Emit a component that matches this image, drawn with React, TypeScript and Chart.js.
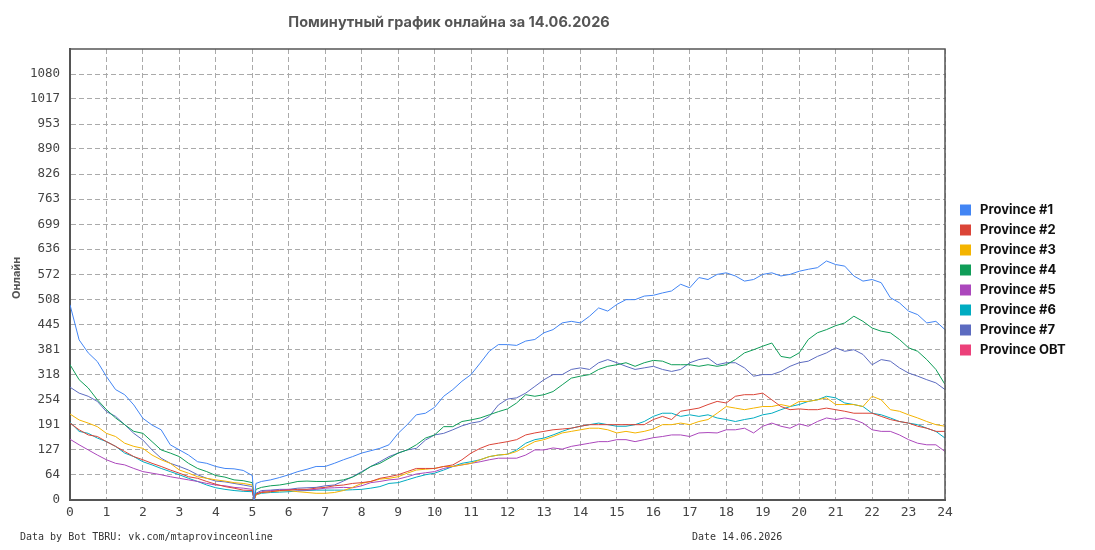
import React, { useEffect, useRef } from "react";
import { Chart, registerables } from "chart.js";

Chart.register(...registerables);

const TITLE = "Поминутный график онлайна за 14.06.2026";
const Y_TITLE = "Онлайн";
const FOOTER_LEFT = "Data by Bot TBRU: vk.com/mtaprovinceonline";
const FOOTER_DATE = "Date 14.06.2026";

const Y_TICKS = [0, 64, 127, 191, 254, 318, 381, 445, 508, 572, 636, 699, 763, 826, 890, 953, 1017, 1080];
const Y_MAX = 1143.5;
const X_MIN = 0;
const X_MAX = 24;

const SERIES_NAMES = [
  "Province #1",
  "Province #2",
  "Province #3",
  "Province #4",
  "Province #5",
  "Province #6",
  "Province #7",
  "Province OBT",
];

const COLORS = ["#4285F4", "#DB4437", "#F4B400", "#0F9D58", "#AB47BC", "#00ACC1", "#5C6BC0", "#EC407A"];

// hours of day
const TIMES = [
  0, 0.25, 0.5, 0.75, 1, 1.25, 1.5, 1.75, 2, 2.25, 2.5, 2.75, 3, 3.25, 3.5, 3.75, 4, 4.25, 4.5, 4.75,
  5, 5.05, 5.1, 5.25, 5.5, 5.75,
  6, 6.25, 6.5, 6.75, 7, 7.25, 7.5, 7.75, 8, 8.25, 8.5, 8.75, 9, 9.25, 9.5, 9.75,
  10, 10.25, 10.5, 10.75, 11, 11.25, 11.5, 11.75, 12, 12.25, 12.5, 12.75, 13, 13.25, 13.5, 13.75,
  14, 14.25, 14.5, 14.75, 15, 15.25, 15.5, 15.75, 16, 16.25, 16.5, 16.75, 17, 17.25, 17.5, 17.75,
  18, 18.25, 18.5, 18.75, 19, 19.25, 19.5, 19.75, 20, 20.25, 20.5, 20.75, 21, 21.25, 21.5, 21.75,
  22, 22.25, 22.5, 22.75, 23, 23.25, 23.5, 23.75, 24,
];

const P1 = [
  495, 406, 373, 351, 313, 280, 267, 241, 207, 190, 178, 140, 127, 114, 97, 93, 85, 80, 79, 75,
  62, 0, 42, 47, 51, 57,
  64, 72, 78, 85, 85, 93, 102, 110, 119, 125, 131, 140, 169, 191, 216, 220,
  235, 263, 280, 301, 318, 347, 377, 394, 394, 392, 403, 407, 424, 432, 449, 453,
  449, 466, 487, 479, 496, 508, 508, 517, 519, 525, 530, 547, 538, 564, 559, 572,
  576, 568, 555, 559, 572, 576, 568, 572, 580, 585, 589, 606, 597, 593, 568, 555,
  559, 551, 513, 500, 479, 470, 449, 453, 432,
];

const P2 = [
  195, 178, 165, 161, 148, 136, 123, 110, 102, 93, 85, 76, 68, 59, 55, 47, 40, 34, 30, 25,
  24, 0, 15, 19, 21, 24,
  25, 27, 27, 30, 32, 36, 38, 42, 44, 47, 55, 59, 64, 72, 80, 80,
  80, 85, 89, 102, 119, 131, 140, 144, 148, 153, 165, 170, 174, 178, 180, 182,
  187, 191, 191, 191, 191, 191, 191, 191, 204, 212, 204, 225, 229, 233, 242, 250,
  246, 263, 267, 267, 271, 254, 237, 229, 231, 229, 229, 233, 229, 225, 220, 220,
  220, 212, 204, 199, 195, 187, 182, 174, 174,
];

const P3 = [
  218, 203, 195, 186, 169, 161, 144, 136, 131, 114, 102, 93, 76, 68, 59, 55, 51, 48, 44, 42,
  38, 0, 13, 19, 21, 23,
  24, 21, 19, 17, 17, 19, 24, 32, 42, 47, 53, 55, 59, 68, 76, 78,
  80, 85, 85, 89, 93, 102, 110, 114, 116, 123, 136, 148, 153, 161, 170, 174,
  178, 182, 182, 178, 170, 174, 170, 174, 180, 191, 191, 195, 191, 199, 204, 220,
  237, 233, 229, 233, 237, 237, 242, 237, 250, 250, 254, 259, 242, 242, 242, 237,
  263, 254, 229, 225, 216, 208, 199, 191, 187,
];

const P4 = [
  343, 305, 284, 254, 229, 208, 191, 174, 169, 148, 127, 119, 110, 93, 80, 72, 62, 58, 51, 49,
  44, 0, 27, 32, 36, 38,
  42, 47, 48, 47, 47, 48, 51, 58, 70, 85, 93, 106, 119, 127, 140, 157,
  165, 186, 186, 199, 203, 208, 216, 224, 231, 246, 267, 263, 267, 275, 292, 309,
  314, 318, 331, 339, 343, 348, 339, 348, 354, 352, 343, 343, 343, 339, 343, 339,
  343, 356, 373, 381, 390, 398, 364, 360, 373, 407, 424, 432, 442, 449, 466, 453,
  436, 428, 424, 407, 386, 377, 356, 331, 293,
];

const P5 = [
  154, 140, 127, 114, 102, 93, 89, 80, 72, 68, 64, 59, 55, 51, 47, 42, 38, 36, 32, 30,
  27, 0, 15, 21, 24, 25,
  27, 25, 25, 27, 30, 31, 32, 31, 36, 44, 47, 51, 53, 59, 66, 69,
  72, 80, 85, 89, 93, 97, 102, 106, 106, 106, 114, 127, 127, 132, 129, 136,
  140, 144, 148, 148, 153, 153, 148, 153, 158, 161, 165, 165, 161, 170, 171, 170,
  178, 178, 182, 170, 187, 195, 187, 182, 193, 187, 199, 208, 204, 208, 204, 195,
  178, 174, 174, 165, 153, 144, 140, 140, 123,
];

const P6 = [
  197, 174, 169, 157, 148, 136, 119, 110, 97, 89, 80, 72, 64, 55, 47, 38, 31, 27, 24, 22,
  21, 0, 13, 17, 19, 20,
  21, 23, 24, 25, 25, 25, 25, 26, 27, 30, 34, 42, 44, 51, 58, 64,
  68, 76, 85, 93, 97, 102, 110, 114, 116, 127, 144, 153, 157, 165, 174, 182,
  187, 191, 195, 191, 187, 187, 191, 199, 212, 220, 220, 212, 216, 212, 216, 208,
  204, 199, 204, 208, 216, 220, 229, 237, 242, 250, 254, 263, 259, 246, 242, 237,
  220, 216, 208, 199, 195, 191, 182, 174, 157,
];

const P7 = [
  286, 271, 263, 250, 224, 212, 191, 169, 152, 127, 106, 93, 85, 76, 64, 55, 48, 46, 42, 38,
  34, 0, 17, 24, 25, 27,
  27, 30, 31, 32, 36, 38, 48, 59, 72, 85, 97, 110, 119, 127, 131, 152,
  165, 169, 178, 188, 195, 199, 212, 241, 256, 259, 271, 288, 305, 318, 318, 331,
  335, 331, 348, 356, 348, 339, 331, 335, 339, 331, 326, 331, 348, 356, 360, 343,
  348, 348, 335, 314, 318, 318, 326, 339, 348, 352, 364, 373, 386, 377, 381, 369,
  343, 356, 352, 335, 322, 314, 305, 297, 280,
];

const POBT: number[] = [];

const SERIES = [P1, P2, P3, P4, P5, P6, P7, POBT];

const MONO = '"DejaVu Sans Mono", "Liberation Mono", monospace';
const SANS = 'Inter, "Noto Sans", sans-serif';

const decorPlugin = {
  id: "decor",
  afterDraw(chart: any) {
    const { ctx, chartArea: a } = chart;
    ctx.save();
    // top and right frame
    ctx.strokeStyle = "#555";
    ctx.lineWidth = 1.5;
    ctx.beginPath();
    ctx.moveTo(a.left, a.top);
    ctx.lineTo(a.right, a.top);
    ctx.lineTo(a.right, a.bottom);
    ctx.stroke();

    // title
    ctx.fillStyle = "#555";
    ctx.font = `bold 14.5px ${SANS}`;
    ctx.textAlign = "center";
    ctx.textBaseline = "middle";
    ctx.fillText(TITLE, 449, 23);

    // y axis title
    ctx.save();
    ctx.translate(17, 278);
    ctx.rotate(-Math.PI / 2);
    ctx.font = `bold 11px ${SANS}`;
    ctx.fillStyle = "#555";
    ctx.fillText(Y_TITLE, 0, 0);
    ctx.restore();

    // footer
    ctx.font = `10px ${MONO}`;
    ctx.fillStyle = "#333";
    ctx.textAlign = "left";
    ctx.fillText(FOOTER_LEFT, 20, 537);
    ctx.fillText(FOOTER_DATE, 692, 537);

    // legend
    chart.data.datasets.forEach((ds: any, i: number) => {
      const y = 210 + i * 20;
      ctx.fillStyle = ds.borderColor;
      ctx.fillRect(960, y - 5.5, 11, 11);
      ctx.fillStyle = "#111";
      ctx.font = `bold 13px ${SANS}`;
      ctx.textAlign = "left";
      ctx.fillText(ds.label, 980, y);
    });
    ctx.restore();
  },
};

export default function App() {
  const canvasRef = useRef<HTMLCanvasElement | null>(null);

  useEffect(() => {
    document.body.style.margin = "0";
    const canvas = canvasRef.current;
    if (!canvas) return;
    const chart = new Chart(canvas, {
      type: "line",
      data: {
        datasets: SERIES.map((vals, i) => ({
          label: SERIES_NAMES[i],
          data: vals.map((v, j) => ({ x: TIMES[j], y: v })),
          borderColor: COLORS[i],
          backgroundColor: COLORS[i],
          borderWidth: 1,
          pointRadius: 0,
          tension: 0,
          fill: false,
        })),
      },
      options: {
        animation: false,
        responsive: true,
        maintainAspectRatio: false,
        layout: { padding: { left: 0, top: 49, right: 150, bottom: 0 } },
        plugins: {
          legend: { display: false },
          title: { display: false },
          tooltip: { enabled: false },
        },
        scales: {
          x: {
            type: "linear",
            min: X_MIN,
            max: X_MAX,
            afterFit: (s: any) => {
              s.height = 50;
            },
            ticks: {
              stepSize: 1,
              autoSkip: false,
              maxRotation: 0,
              padding: 5,
              color: "#444",
              font: { family: MONO, size: 13 },
            },
            grid: { color: "#aaa", lineWidth: 1, drawTicks: false },
            border: { display: true, color: "#555", width: 2, dash: [5, 3] },
          },
          y: {
            min: 0,
            max: Y_MAX,
            afterFit: (s: any) => {
              s.width = 70;
            },
            afterBuildTicks: (s: any) => {
              s.ticks = Y_TICKS.map((v) => ({ value: v }));
            },
            ticks: {
              padding: 10,
              color: "#444",
              font: { family: MONO, size: 12.5 },
              callback: (v: any) => String(v),
            },
            grid: { color: "#aaa", lineWidth: 1, drawTicks: false },
            border: { display: true, color: "#555", width: 2, dash: [5, 3] },
          },
        },
      },
      plugins: [decorPlugin],
    });
    return () => chart.destroy();
  }, []);

  return (
    <div style={{ position: "relative", width: 1095, height: 550 }}>
      <canvas ref={canvasRef} />
    </div>
  );
}
